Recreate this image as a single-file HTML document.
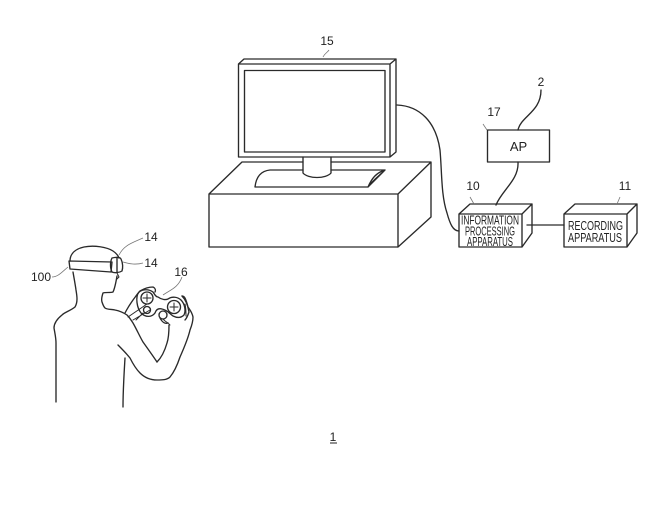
<!DOCTYPE html>
<html><head><meta charset="utf-8">
<style>
html,body{margin:0;padding:0;background:#fff;width:664px;height:507px;overflow:hidden}
svg{display:block}
text{font-family:"Liberation Sans",sans-serif;fill:#222}
.l{fill:none;stroke:#2a2a2a;stroke-width:1.35;stroke-linejoin:round;stroke-linecap:round}
.s{stroke-width:1}
.t{fill:none;stroke:#777;stroke-width:.8}
.n{font-size:12px;-webkit-text-stroke:.25px #222}
.c{font-size:12.500px}
</style></head><body>
<svg width="664" height="507" viewBox="0 0 664 507" xmlns="http://www.w3.org/2000/svg">
<!-- monitor -->
<path class="l" d="M238.500 157V64L244 59H396V152L390 157ZM238.500 64H390V157M390 64L396 59"/>
<rect class="l" x="244.500" y="70.500" width="140.500" height="81.500"/>
<!-- base -->
<path class="l" d="M209 194L242 162H303M331 162H431L398 194H209V247H398V194M398 247L431 217V162"/>
<path class="l" d="M255 187C256 178 260 171 270 170H303M331 170H385L368 187H255M368 187C372 178 376 173 385 170C379 176 373 180 368 187"/>
<path class="l" d="M303 157V173C308 179 326 179 331 173V157"/>
<!-- cable -->
<path class="l" d="M397 105C420 106 436 122 440 150C442 172 441 195 447 213C450 224 453 231 459 231"/>
<!-- AP -->
<rect class="l" x="487.500" y="130" width="62" height="32"/>
<path class="l" d="M518 130C521 116 541 112 541 90M518 162C519 180 502 190 496 205"/>
<!-- info -->
<path class="l" d="M459 214L470 204H532V233L522 247V214H459V247H522M522 214L532 204"/>
<path class="l" d="M527 225H564"/>
<!-- recording -->
<path class="l" d="M564 214L575 204H637V233L627 247V214H564V247H627M627 214L637 204"/>
<!-- head -->
<path class="l" d="M70 261C70 254 75 249 84 247C94 245 107 247 113 251C116 253 118 255 119 258"/>
<path class="l" d="M73 272C74 278 75 283 76 290C77 296 78 302 75 307C70 311 65 312 62 315C57 319 54 323 54 328C55 334 56 338 56 343C56 362 56 382 56 402"/>
<path class="l" d="M69 261L112 262L111 272L70 269Z"/>
<path class="l" d="M112 258C116 257 120 257 121 259C123 263 123 268 122 271C119 273 114 273 112 272C110 268 110 262 112 258ZM117 258V272"/>
<path class="l s" d="M117 273L119 277L117 279"/>
<!-- neck, arm -->
<path class="l" d="M117 276C116 282 115 288 113 292C110 293 106 292 103 293C102 296 101 299 102 302C103 305 104 307 105 308C108 310 112 309 115 310C120 311 124 313 127 315C130 318 131 320 133 323C137 330 140 337 143 342C148 349 153 356 157 362"/>
<path class="l" d="M157 362C162 357 165 350 167 343C169 337 169 331 169 325"/>
<path class="l" d="M118 345C122 349 126 353 130 358C133 364 136 369 140 373C145 378 151 380 157 380C162 380 167 380 170 377C175 371 178 363 180 357C184 348 188 339 190 330C192 325 193 321 193 317C192 312 190 310 188 307C187 303 186 300 185 298C184 296 183 296 182 296"/>
<path class="l" d="M125 358C124 375 123 390 123 407"/>
<!-- left hand -->
<path class="l" d="M125 313C128 307 131 303 133 300C136 296 138 293 140 291C145 288 149 287 153 287C155 288 156 290 155 292"/>
<path class="l s" d="M128 317L147 304M133 320L150 310M136 320L143 313"/>
<!-- controller -->
<path class="l" d="M139 292C143 289 149 289 153 292C155 295 156 297 158 297C162 300 166 300 168 299C172 296 178 297 181 300C185 304 186 311 184 315C181 318 177 318 173 316C169 313 167 310 162 309C158 308 156 310 155 313C152 317 146 318 141 313C137 308 135 297 139 292Z"/>
<circle class="l" cx="147" cy="298" r="6"/>
<path class="l s" d="M143 298H151M147 294V302"/>
<circle class="l" cx="174" cy="307" r="6.500"/>
<path class="l s" d="M170 307H178M174 303V311"/>
<circle class="l" cx="147" cy="310" r="3.500"/>
<circle class="l" cx="163" cy="315" r="4"/>
<!-- right fingers -->
<path class="l" d="M160 318C162 322 165 324 168 323M182 296C186 300 188 306 189 312C188 315 187 318 185 320"/>
<path class="l s" d="M163 319C165 322 168 322 170 325M186 316C186 312 186 308 185 304"/>
<!-- leaders -->
<path class="t" d="M323 57C325 53 327 53 329 50M487 130L483 124M474 204L470 197M617 204L620 197M68 267C62 272 58 277 52 277M119 255C124 245 132 243 143 238M123 262C130 264 136 265 143 263M163 295C170 290 178 288 182 277"/>
<!-- labels -->
<text class="n" x="327" y="45" text-anchor="middle">15</text>
<text class="n" x="541" y="86" text-anchor="middle">2</text>
<text class="n" x="494" y="116" text-anchor="middle">17</text>
<text class="n" x="473" y="190" text-anchor="middle">10</text>
<text class="n" x="625" y="190" text-anchor="middle">11</text>
<text class="n" x="151" y="241" text-anchor="middle">14</text>
<text class="n" x="151" y="267" text-anchor="middle">14</text>
<text class="n" x="181" y="276" text-anchor="middle">16</text>
<text class="n" x="41" y="281" text-anchor="middle">100</text>
<text x="518.500" y="151" text-anchor="middle" font-size="13" style="-webkit-text-stroke:.4px #222">AP</text>
<text class="c" x="490" y="224.500" text-anchor="middle" textLength="58" lengthAdjust="spacingAndGlyphs">INFORMATION</text>
<text class="c" x="490" y="235.500" text-anchor="middle" textLength="50" lengthAdjust="spacingAndGlyphs">PROCESSING</text>
<text class="c" x="490" y="246" text-anchor="middle" textLength="46" lengthAdjust="spacingAndGlyphs">APPARATUS</text>
<text class="c" x="595.500" y="230" text-anchor="middle" textLength="55" lengthAdjust="spacingAndGlyphs">RECORDING</text>
<text class="c" x="595" y="242" text-anchor="middle" textLength="54" lengthAdjust="spacingAndGlyphs">APPARATUS</text>
<text class="n" x="333" y="441" text-anchor="middle">1</text>
<path d="M330 443H337" stroke="#222" stroke-width="1"/>
</svg>
</body></html>
